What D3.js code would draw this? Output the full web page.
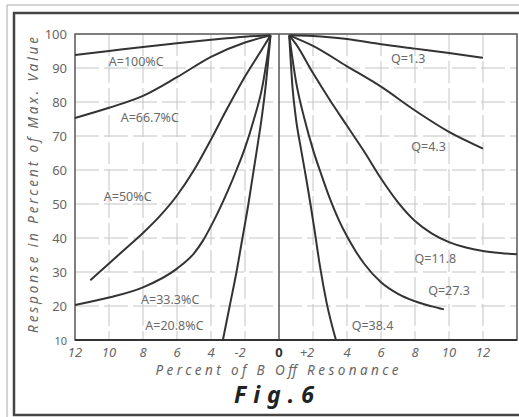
<!DOCTYPE html>
<html>
<head>
<meta charset="utf-8">
<script src="https://cdn.jsdelivr.net/npm/d3@7"></script>
<style>
  body { margin: 0; background: #fff; }
  text { font-family: "Noto Sans", sans-serif; }
</style>
</head>
<body>
<div id="container"></div>
<script>
// Response curves (x = percent off resonance, negative = left half, y = percent of max)
const curveA100 = [[-12, 93.8], [-10, 95], [-8, 96.2], [-6, 97.3], [-4, 98.3], [-2, 99.2], [-0.5, 99.6]];
const curveA667 = [[-12, 75.3], [-10, 78.3], [-8, 81.8], [-6, 87.3], [-4, 93.3], [-2, 97.5], [-0.5, 99.6]];
const curveA50 = [[-11.1, 27.6], [-10, 32.5], [-9, 37], [-8, 41.5], [-7, 46.5], [-6, 52.5], [-5, 60], [-4, 69], [-3, 78.5], [-2, 87.5], [-1, 95.5], [-0.5, 99.6]];
const curveA333 = [[-12, 20.3], [-10, 22.5], [-8, 25.5], [-6, 31], [-5, 35.5], [-4.5, 39], [-4, 43.5], [-3.5, 48.5], [-3, 54], [-2.5, 60], [-2, 66.5], [-1.5, 74.5], [-1, 84], [-0.5, 99.6]];
const curveA208 = [[-3.3, 10], [-2.9, 20], [-2.5, 30], [-2.15, 40], [-1.8, 50], [-1.55, 58], [-1.3, 66], [-1.0, 76], [-0.8, 84], [-0.5, 99.6]];

const curveQ13 = [[0.6, 99.6], [2, 99.4], [4, 98.5], [6, 97], [8, 95.7], [10, 94.4], [12, 93]];
const curveQ43 = [[0.6, 99.6], [2, 96.5], [4, 90.5], [6, 84.5], [8, 77.5], [10, 71.2], [12, 66.3]];
const curveQ118 = [[0.6, 99.6], [1, 97], [2, 88.5], [3, 80.5], [4, 73], [5, 65.5], [6, 57.5], [7, 50.5], [8, 45], [9, 41.3], [10, 38.8], [11, 37.2], [12, 36.2], [13, 35.6], [14, 35.2]];
const curveQ273 = [[0.6, 99.6], [1, 86], [1.5, 75], [2, 66], [2.5, 58.5], [3, 51.5], [3.5, 45.5], [4, 40.5], [4.5, 36.2], [5, 32.5], [6, 27], [7, 23.6], [8, 21.4], [9, 19.9], [9.7, 19]];
const curveQ384 = [[0.6, 99.6], [0.8, 84], [1.0, 75], [1.3, 66], [1.6, 57.5], [1.85, 50], [2.1, 42], [2.4, 32], [2.8, 21], [3.35, 10]];

const curves = [curveA100, curveA667, curveA50, curveA333, curveA208, curveQ13, curveQ43, curveQ118, curveQ273, curveQ384];

// Curve labels, placed in data units
const labelTexts = ['A=100%C', 'A=66.7%C', 'A=50%C', 'A=33.3%C', 'A=20.8%C', 'Q=1.3', 'Q=4.3', 'Q=11.8', 'Q=27.3', 'Q=38.4'];
const labelX = [-8.4, -7.6, -8.9, -6.4, -6.15, 7.6, 8.8, 9.2, 10.0, 5.5];
const labelY = [91.8, 75.3, 52.1, 21.8, 14.4, 92.9, 66.8, 34.1, 24.7, 14.4];

// Axis ticks
const xTicks = [-12, -10, -8, -6, -4, -2, 0, 2, 4, 6, 8, 10, 12];
const xTickLabels = ['12', '10', '8', '6', '4', '-2', '0', '+2', '4', '6', '8', '10', '12'];
const yTicks = [10, 20, 30, 40, 50, 60, 70, 80, 90, 100];

const width = 519, height = 417;

const svg = d3.select('#container').append('svg')
    .attr('width', width)
    .attr('height', height);

// Outer figure frame
svg.append('path')
    .attr('d', 'M7,417 V5 H519')
    .attr('fill', 'none')
    .attr('stroke', '#aaa')
    .attr('stroke-width', 1);
svg.append('rect')
    .attr('x', 14).attr('y', 13)
    .attr('width', 540).attr('height', 402)
    .attr('fill', 'none')
    .attr('stroke', '#444')
    .attr('stroke-width', 2.5);

const x = d3.scaleLinear().domain([-12, 14]).range([75, 517]);
const y = d3.scaleLinear().domain([10, 100]).range([340, 34]);

// Grid
svg.append('g').selectAll('line')
    .data(xTicks.filter(d => d !== -12 && d !== 0))
    .enter().append('line')
    .attr('x1', d => x(d)).attr('x2', d => x(d))
    .attr('y1', y(100)).attr('y2', y(10))
    .attr('stroke', '#c4c4c4')
    .attr('stroke-width', 1)
    .attr('stroke-dasharray', '22,5');

svg.append('g').selectAll('line')
    .data(yTicks.filter(d => d !== 10 && d !== 100))
    .enter().append('line')
    .attr('x1', x(-12)).attr('x2', x(14))
    .attr('y1', d => y(d)).attr('y2', d => y(d))
    .attr('stroke', '#c4c4c4')
    .attr('stroke-width', 1)
    .attr('stroke-dasharray', '24,5');

// Centre line at resonance
svg.append('line')
    .attr('x1', x(0)).attr('x2', x(0))
    .attr('y1', y(100)).attr('y2', y(10))
    .attr('stroke', '#555')
    .attr('stroke-width', 1.5);

// Plot border
svg.append('rect')
    .attr('x', x(-12)).attr('y', y(100))
    .attr('width', x(14) - x(-12)).attr('height', y(10) - y(100))
    .attr('fill', 'none')
    .attr('stroke', '#555')
    .attr('stroke-width', 1.5);
svg.append('line')
    .attr('x1', x(-12)).attr('x2', x(14))
    .attr('y1', y(10)).attr('y2', y(10))
    .attr('stroke', '#333')
    .attr('stroke-width', 2);

// Curves
const line = d3.line()
    .x(d => x(d[0]))
    .y(d => y(d[1]))
    .curve(d3.curveMonotoneX);

svg.append('g').selectAll('path')
    .data(curves)
    .enter().append('path')
    .attr('d', line)
    .attr('fill', 'none')
    .attr('stroke', '#333')
    .attr('stroke-width', 2);

// Y tick labels
svg.append('g').selectAll('text')
    .data(yTicks)
    .enter().append('text')
    .attr('x', 67)
    .attr('y', d => y(d) + 5)
    .attr('text-anchor', 'end')
    .attr('font-size', d => d === 10 ? 11 : 13)
    .attr('fill', '#666')
    .text(d => d);

// X tick labels
svg.append('g').selectAll('text')
    .data(xTicks)
    .enter().append('text')
    .attr('x', d => x(d) + (d === -2 ? -5 : d === 2 ? -6 : 0))
    .attr('y', 357)
    .attr('text-anchor', 'middle')
    .attr('font-size', 13)
    .attr('font-style', d => d === 0 ? 'normal' : 'italic')
    .attr('font-weight', d => d === 0 ? 'bold' : 'normal')
    .attr('fill', d => d === 0 ? '#333' : '#666')
    .text((d, i) => xTickLabels[i]);

// Curve labels
svg.append('g').selectAll('text')
    .data(labelTexts)
    .enter().append('text')
    .attr('x', (d, i) => x(labelX[i]))
    .attr('y', (d, i) => y(labelY[i]) + 4.5)
    .attr('text-anchor', 'middle')
    .attr('font-size', 12.5)
    .attr('fill', '#6a6a6a')
    .text(d => d);

// Axis titles
svg.append('text')
    .attr('transform', 'translate(38,185) rotate(-90)')
    .attr('text-anchor', 'middle')
    .attr('font-size', 13.5)
    .attr('font-style', 'italic')
    .attr('fill', '#666')
    .attr('textLength', 296)
    .attr('lengthAdjust', 'spacing')
    .text('Response in Percent of Max. Value');

svg.append('text')
    .attr('x', 277)
    .attr('y', 375)
    .attr('text-anchor', 'middle')
    .attr('font-size', 13.5)
    .attr('font-style', 'italic')
    .attr('fill', '#666')
    .attr('textLength', 243)
    .attr('lengthAdjust', 'spacing')
    .text('Percent of B Off Resonance');

svg.append('text')
    .attr('x', 274)
    .attr('y', 403)
    .attr('text-anchor', 'middle')
    .attr('font-size', 23)
    .attr('font-style', 'italic')
    .attr('font-weight', 'bold')
    .attr('fill', '#222')
    .attr('textLength', 80)
    .attr('lengthAdjust', 'spacing')
    .text('Fig.6');
</script>
</body>
</html>
